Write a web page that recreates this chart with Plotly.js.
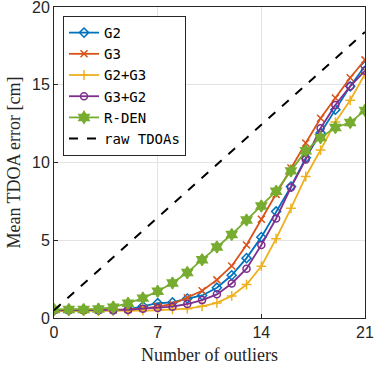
<!DOCTYPE html>
<html>
<head>
<meta charset="utf-8">
<script src="https://cdn.plot.ly/plotly-3.0.1.min.js"></script>
<style>
  html, body { margin: 0; padding: 0; background: #fff; }
  #chart { width: 374px; height: 368px; }
</style>
</head>
<body>
<div id="chart"></div>
<script>
// number of outliers
var outliers = [0,1,2,3,4,5,6,7,8,9,10,11,12,13,14,15,16,17,18,19,20,21];

// mean TDOA error [cm] per method
var g2     = [0.5,0.5,0.5,0.5,0.5,0.55,0.75,0.95,1.0,1.25,1.45,1.95,2.75,3.85,5.2,6.85,8.45,10.3,11.9,13.4,14.9,16.2];
var g3     = [0.52,0.52,0.52,0.52,0.52,0.55,0.62,0.73,0.9,1.3,1.75,2.45,3.35,4.7,6.35,7.95,9.65,11.25,12.85,14.15,15.45,16.6];
var g2g3   = [0.45,0.45,0.45,0.45,0.45,0.45,0.48,0.5,0.55,0.6,0.75,0.97,1.42,2.15,3.33,5.1,7.05,9.1,10.8,12.6,14.0,15.7];
var g3g2   = [0.5,0.5,0.5,0.5,0.5,0.52,0.6,0.65,0.73,0.9,1.15,1.52,2.22,3.17,4.7,6.4,8.4,10.2,12.2,13.7,14.9,15.9];
var rden   = [0.55,0.55,0.55,0.58,0.7,0.95,1.28,1.72,2.25,2.92,3.75,4.57,5.37,6.3,7.2,8.15,9.46,10.76,11.6,12.25,12.57,13.35];

// raw TDOAs reference line (end points)
var rawX = [0, 21];
var rawY = [0.5, 18.4];

var tickVals_x = [0, 7, 14, 21];
var tickVals_y = [0, 5, 10, 15, 20];

function series(name, y, color, symbol, filled) {
  return {
    x: outliers,
    y: y,
    name: name,
    type: "scatter",
    mode: "lines+markers",
    line: { color: color, width: 1.8 },
    marker: {
      symbol: symbol,
      size: filled ? 9 : 7,
      color: color,
      line: { color: color, width: 1.5 }
    }
  };
}

var traceG2   = series("G2", g2, "#0072BD", "diamond-open", false);
var traceG3   = series("G3", g3, "#D95319", "x-thin-open", false);
var traceG2G3 = series("G2+G3", g2g3, "#EDB120", "cross-thin-open", false);
var traceG3G2 = series("G3+G2", g3g2, "#7E2F8E", "circle-open", false);
var traceRden = series("R-DEN", rden, "#77AC30", "hexagram", true);

var traceRaw = {
  x: rawX,
  y: rawY,
  name: "raw TDOAs",
  type: "scatter",
  mode: "lines",
  line: { color: "#000000", width: 2, dash: "dash" }
};

var layout = {
  width: 374,
  height: 368,
  margin: { l: 54, r: 9, t: 7, b: 50 },
  paper_bgcolor: "#ffffff",
  plot_bgcolor: "#ffffff",
  showlegend: true,
  legend: {
    x: 0.029, y: 0.971,
    xanchor: "left", yanchor: "top",
    bgcolor: "#ffffff",
    bordercolor: "#262626",
    borderwidth: 1,
    font: { family: "DejaVu Sans Mono", size: 14, color: "#000000" },
    tracegroupgap: 0
  },
  xaxis: {
    range: [0, 21],
    tickvals: tickVals_x,
    ticks: "inside",
    ticklen: 4,
    tickcolor: "#262626",
    ticklabeloverflow: "allow",
    showline: true,
    linecolor: "#262626",
    linewidth: 1,
    mirror: true,
    showgrid: true,
    gridcolor: "#e3e3e3",
    zeroline: false,
    tickfont: { family: "Liberation Sans", size: 16, color: "#262626" },
    title: { text: "Number of outliers", standoff: 8,
             font: { family: "Liberation Serif", size: 18, color: "#262626" } }
  },
  yaxis: {
    range: [0, 20],
    tickvals: tickVals_y,
    ticks: "inside",
    ticklen: 4,
    tickcolor: "#262626",
    ticklabeloverflow: "allow",
    showline: true,
    linecolor: "#262626",
    linewidth: 1,
    mirror: true,
    showgrid: true,
    gridcolor: "#e3e3e3",
    zeroline: false,
    tickfont: { family: "Liberation Sans", size: 16, color: "#262626" },
    title: { text: "Mean TDOA error [cm]", standoff: 6,
             font: { family: "Liberation Serif", size: 18, color: "#262626" } }
  }
};

var data = [traceG2, traceG3, traceG2G3, traceG3G2, traceRden, traceRaw];

Plotly.newPlot("chart", data, layout, { displayModeBar: false, staticPlot: true });
</script>
</body>
</html>
